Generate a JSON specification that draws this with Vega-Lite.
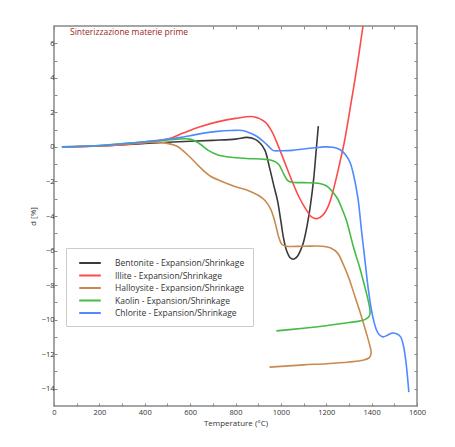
{
  "$schema": "https://vega.github.io/schema/vega-lite/v6.json",
  "autosize": "none",
  "width": 363,
  "height": 380,
  "padding": {"left": 54, "top": 26, "right": 38, "bottom": 41},
  "background": "white",
  "title": {"text": "Sinterizzazione materie prime", "anchor": "start", "frame": "group", "offset": 0, "dx": 16, "dy": 31, "fontSize": 8.5, "fontWeight": "normal", "color": "#9e1f24", "font": "Open Sans"},
  "config": {
    "view": {"stroke": "#888", "strokeWidth": 1.5},
    "axis": {"domain": false, "grid": false, "tickColor": "#888", "tickSize": -3, "tickWidth": 1, "labelFont": "Open Sans", "labelFontSize": 7.5, "labelColor": "#333", "titleFont": "Open Sans", "titleFontSize": 8, "titleFontWeight": "normal", "titleColor": "#333", "labelFlush": false, "labelOverlap": false}
  },
  "data": {"values": [
    {"material":"Bentonite","T":35,"d":0},{"material":"Bentonite","T":200,"d":0.05},{"material":"Bentonite","T":400,"d":0.2},{"material":"Bentonite","T":550,"d":0.3},{"material":"Bentonite","T":700,"d":0.38},{"material":"Bentonite","T":800,"d":0.45},{"material":"Bentonite","T":850,"d":0.55},{"material":"Bentonite","T":885,"d":0.45},{"material":"Bentonite","T":910,"d":0.2},{"material":"Bentonite","T":930,"d":-0.2},{"material":"Bentonite","T":950,"d":-1.2},{"material":"Bentonite","T":970,"d":-2.3},{"material":"Bentonite","T":985,"d":-3.1},{"material":"Bentonite","T":1000,"d":-4.3},{"material":"Bentonite","T":1012,"d":-5.3},{"material":"Bentonite","T":1025,"d":-6.0},{"material":"Bentonite","T":1040,"d":-6.4},{"material":"Bentonite","T":1055,"d":-6.5},{"material":"Bentonite","T":1072,"d":-6.35},{"material":"Bentonite","T":1088,"d":-5.95},{"material":"Bentonite","T":1100,"d":-5.5},{"material":"Bentonite","T":1115,"d":-4.6},{"material":"Bentonite","T":1130,"d":-3.4},{"material":"Bentonite","T":1145,"d":-1.8},{"material":"Bentonite","T":1155,"d":-0.3},{"material":"Bentonite","T":1165,"d":1.2},
    {"material":"Illite","T":35,"d":0},{"material":"Illite","T":200,"d":0.05},{"material":"Illite","T":400,"d":0.25},{"material":"Illite","T":500,"d":0.45},{"material":"Illite","T":570,"d":0.8},{"material":"Illite","T":640,"d":1.15},{"material":"Illite","T":720,"d":1.45},{"material":"Illite","T":800,"d":1.65},{"material":"Illite","T":880,"d":1.75},{"material":"Illite","T":930,"d":1.45},{"material":"Illite","T":960,"d":0.9},{"material":"Illite","T":990,"d":0.0},{"material":"Illite","T":1020,"d":-1.0},{"material":"Illite","T":1050,"d":-2.0},{"material":"Illite","T":1080,"d":-2.9},{"material":"Illite","T":1110,"d":-3.6},{"material":"Illite","T":1135,"d":-4.05},{"material":"Illite","T":1160,"d":-4.15},{"material":"Illite","T":1185,"d":-3.95},{"material":"Illite","T":1210,"d":-3.4},{"material":"Illite","T":1235,"d":-2.3},{"material":"Illite","T":1260,"d":-0.9},{"material":"Illite","T":1280,"d":0.3},{"material":"Illite","T":1305,"d":2.2},{"material":"Illite","T":1335,"d":4.6},{"material":"Illite","T":1362,"d":7.0},{"material":"Illite","T":1375,"d":8.2},
    {"material":"Halloysite","T":35,"d":0},{"material":"Halloysite","T":200,"d":0.05},{"material":"Halloysite","T":400,"d":0.25},{"material":"Halloysite","T":480,"d":0.25},{"material":"Halloysite","T":540,"d":0.05},{"material":"Halloysite","T":600,"d":-0.6},{"material":"Halloysite","T":645,"d":-1.2},{"material":"Halloysite","T":690,"d":-1.7},{"material":"Halloysite","T":740,"d":-2.0},{"material":"Halloysite","T":800,"d":-2.3},{"material":"Halloysite","T":860,"d":-2.55},{"material":"Halloysite","T":900,"d":-2.8},{"material":"Halloysite","T":930,"d":-3.1},{"material":"Halloysite","T":955,"d":-3.6},{"material":"Halloysite","T":975,"d":-4.4},{"material":"Halloysite","T":990,"d":-5.2},{"material":"Halloysite","T":1005,"d":-5.65},{"material":"Halloysite","T":1025,"d":-5.75},{"material":"Halloysite","T":1100,"d":-5.75},{"material":"Halloysite","T":1180,"d":-5.75},{"material":"Halloysite","T":1220,"d":-5.85},{"material":"Halloysite","T":1250,"d":-6.15},{"material":"Halloysite","T":1275,"d":-6.8},{"material":"Halloysite","T":1300,"d":-7.6},{"material":"Halloysite","T":1325,"d":-8.6},{"material":"Halloysite","T":1350,"d":-9.6},{"material":"Halloysite","T":1375,"d":-10.7},{"material":"Halloysite","T":1392,"d":-11.5},{"material":"Halloysite","T":1398,"d":-11.9},{"material":"Halloysite","T":1390,"d":-12.2},{"material":"Halloysite","T":1362,"d":-12.35},{"material":"Halloysite","T":1300,"d":-12.45},{"material":"Halloysite","T":1200,"d":-12.55},{"material":"Halloysite","T":1100,"d":-12.62},{"material":"Halloysite","T":950,"d":-12.75},
    {"material":"Kaolin","T":35,"d":0},{"material":"Kaolin","T":200,"d":0.08},{"material":"Kaolin","T":400,"d":0.3},{"material":"Kaolin","T":500,"d":0.4},{"material":"Kaolin","T":600,"d":0.45},{"material":"Kaolin","T":640,"d":0.2},{"material":"Kaolin","T":680,"d":-0.2},{"material":"Kaolin","T":720,"d":-0.45},{"material":"Kaolin","T":780,"d":-0.6},{"material":"Kaolin","T":850,"d":-0.67},{"material":"Kaolin","T":930,"d":-0.72},{"material":"Kaolin","T":965,"d":-0.8},{"material":"Kaolin","T":990,"d":-1.0},{"material":"Kaolin","T":1010,"d":-1.5},{"material":"Kaolin","T":1030,"d":-1.95},{"material":"Kaolin","T":1050,"d":-2.05},{"material":"Kaolin","T":1100,"d":-2.07},{"material":"Kaolin","T":1170,"d":-2.12},{"material":"Kaolin","T":1200,"d":-2.25},{"material":"Kaolin","T":1225,"d":-2.55},{"material":"Kaolin","T":1250,"d":-3.0},{"material":"Kaolin","T":1270,"d":-3.6},{"material":"Kaolin","T":1290,"d":-4.3},{"material":"Kaolin","T":1320,"d":-5.8},{"material":"Kaolin","T":1349,"d":-7.05},{"material":"Kaolin","T":1370,"d":-8.1},{"material":"Kaolin","T":1385,"d":-8.9},{"material":"Kaolin","T":1393,"d":-9.5},{"material":"Kaolin","T":1390,"d":-9.8},{"material":"Kaolin","T":1370,"d":-10.0},{"material":"Kaolin","T":1340,"d":-10.1},{"material":"Kaolin","T":1300,"d":-10.17},{"material":"Kaolin","T":1200,"d":-10.35},{"material":"Kaolin","T":1100,"d":-10.5},{"material":"Kaolin","T":980,"d":-10.65},
    {"material":"Chlorite","T":35,"d":0},{"material":"Chlorite","T":200,"d":0.08},{"material":"Chlorite","T":400,"d":0.3},{"material":"Chlorite","T":500,"d":0.45},{"material":"Chlorite","T":560,"d":0.55},{"material":"Chlorite","T":600,"d":0.65},{"material":"Chlorite","T":660,"d":0.8},{"material":"Chlorite","T":720,"d":0.9},{"material":"Chlorite","T":780,"d":0.95},{"material":"Chlorite","T":830,"d":0.95},{"material":"Chlorite","T":865,"d":0.8},{"material":"Chlorite","T":895,"d":0.6},{"material":"Chlorite","T":920,"d":0.35},{"material":"Chlorite","T":945,"d":0.05},{"material":"Chlorite","T":965,"d":-0.2},{"material":"Chlorite","T":1000,"d":-0.22},{"material":"Chlorite","T":1050,"d":-0.2},{"material":"Chlorite","T":1100,"d":-0.12},{"material":"Chlorite","T":1150,"d":-0.05},{"material":"Chlorite","T":1190,"d":0.0},{"material":"Chlorite","T":1230,"d":-0.02},{"material":"Chlorite","T":1260,"d":-0.15},{"material":"Chlorite","T":1285,"d":-0.45},{"material":"Chlorite","T":1305,"d":-0.9},{"material":"Chlorite","T":1320,"d":-1.6},{"material":"Chlorite","T":1340,"d":-3.0},{"material":"Chlorite","T":1355,"d":-4.8},{"material":"Chlorite","T":1370,"d":-6.5},{"material":"Chlorite","T":1385,"d":-8.2},{"material":"Chlorite","T":1400,"d":-9.5},{"material":"Chlorite","T":1410,"d":-10.1},{"material":"Chlorite","T":1420,"d":-10.55},{"material":"Chlorite","T":1432,"d":-10.85},{"material":"Chlorite","T":1450,"d":-11.0},{"material":"Chlorite","T":1470,"d":-10.9},{"material":"Chlorite","T":1490,"d":-10.78},{"material":"Chlorite","T":1510,"d":-10.82},{"material":"Chlorite","T":1528,"d":-11.0},{"material":"Chlorite","T":1540,"d":-11.5},{"material":"Chlorite","T":1550,"d":-12.3},{"material":"Chlorite","T":1558,"d":-13.3},{"material":"Chlorite","T":1564,"d":-14.2}
  ]},
  "layer": [
    {
      "mark": {"type": "line", "interpolate": "catmull-rom", "strokeWidth": 1.6, "clip": true},
      "encoding": {
        "x": {"field": "T", "type": "quantitative", "scale": {"domain": [0, 1600], "nice": false, "zero": false},
          "axis": {"orient": "bottom", "values": [0,100,200,300,400,500,600,700,800,900,1000,1100,1200,1300,1400,1500,1600], "labelExpr": "datum.value % 200 === 0 ? datum.label : ''", "format": "d", "labelPadding": 5, "title": "Temperature (°C)", "titlePadding": 4}},
        "y": {"field": "d", "type": "quantitative", "scale": {"domain": [-15, 7], "nice": false, "zero": false},
          "axis": {"orient": "left", "values": [-14,-13,-12,-11,-10,-9,-8,-7,-6,-5,-4,-3,-2,-1,0,1,2,3,4,5,6], "labelExpr": "datum.value % 2 === 0 ? datum.label : ''", "labelPadding": 3, "title": "d [%]", "titlePadding": 4}},
        "color": {"field": "material", "type": "nominal",
          "scale": {"domain": ["Bentonite", "Illite", "Halloysite", "Kaolin", "Chlorite"], "range": ["#3a3a3a", "#ff4a4a", "#c98a4f", "#44bb44", "#4f8aff"]},
          "legend": {"orient": "none", "legendX": 12, "legendY": 222, "title": null, "padding": 8, "strokeColor": "#cccccc", "fillColor": "white", "symbolType": "M-1.8,0H1.8", "symbolSize": 144, "symbolStrokeWidth": 2, "symbolOffset": 9, "labelOffset": 18, "rowPadding": 0.5, "labelFont": "Open Sans", "labelFontSize": 8.5, "labelColor": "#333", "labelExpr": "datum.label + ' - Expansion/Shrinkage'", "labelLimit": 300}},
        "order": {"value": null}
      }
    },
    {
      "mark": {"type": "line", "opacity": 0},
      "encoding": {
        "x": {"field": "T", "type": "quantitative", "axis": {"orient": "top", "values": [0,700,800,900,1000,1100,1200,1300,1400,1500,1600], "labels": false, "title": null}},
        "y": {"field": "d", "type": "quantitative", "axis": {"orient": "right", "values": [-14,-13,-12,-11,-10,-9,-8,-7,-6,-5,-4,-3,-2,-1,0,1,2,3,4,5,6], "labels": false, "title": null}},
        "detail": {"field": "material"}
      }
    }
  ],
  "resolve": {"axis": {"x": "independent", "y": "independent"}}
}
